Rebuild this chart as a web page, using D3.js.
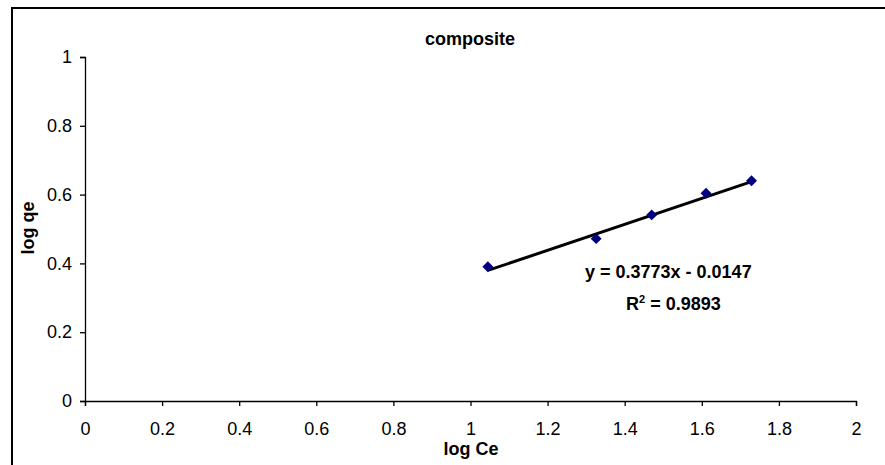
<!DOCTYPE html>
<meta charset="utf-8">
<style>
body { margin: 0; background: #fff; }
svg { display: block; font-family: Arial, "Liberation Sans", sans-serif; }
.axis path, .axis line { stroke: #000; stroke-width: 1.3; }
.axis text { font-size: 18px; fill: #000; }
.lbl { font-weight: bold; font-size: 18px; fill: #000; }
</style>
<svg width="885" height="465"></svg>
<script src="https://d3js.org/d3.v7.min.js"></script>
<script>
// log Ce vs log qe, composite
var logCe = [1.045, 1.326, 1.470, 1.611, 1.729];
var logQe = [0.390, 0.472, 0.541, 0.604, 0.640];
var xTicks = [0, 0.2, 0.4, 0.6, 0.8, 1, 1.2, 1.4, 1.6, 1.8, 2];
var yTicks = [0, 0.2, 0.4, 0.6, 0.8, 1];
var slope = 0.3773, intercept = -0.0147;
var eqText = "y = 0.3773x - 0.0147";
var r2Value = "0.9893";

var svg = d3.select("svg");

// chart border (top and left visible, rest is clipped off)
svg.append("rect")
    .attr("x", 12).attr("y", 8)
    .attr("width", 900).attr("height", 500)
    .attr("fill", "none").attr("stroke", "#000").attr("stroke-width", 2);

var x = d3.scaleLinear().domain([0, 2]).range([85, 856]),
    y = d3.scaleLinear().domain([0, 1]).range([401, 57]);

svg.append("g")
    .attr("class", "axis")
    .attr("transform", "translate(0,401)")
    .call(d3.axisBottom(x).tickValues(xTicks).tickFormat(d3.format("~g")).tickSize(5).tickSizeOuter(5).tickPadding(16));

svg.append("g")
    .attr("class", "axis")
    .attr("transform", "translate(85,0)")
    .call(d3.axisLeft(y).tickValues(yTicks).tickFormat(d3.format("~g")).tickSize(5).tickSizeOuter(5).tickPadding(8));

// trendline over the data range
var x0 = d3.min(logCe), x1 = d3.max(logCe);
svg.append("line")
    .attr("x1", x(x0)).attr("y1", y(slope * x0 + intercept))
    .attr("x2", x(x1)).attr("y2", y(slope * x1 + intercept))
    .attr("stroke", "#000").attr("stroke-width", 3);

svg.selectAll(".pt")
    .data(logCe)
  .enter().append("path")
    .attr("class", "pt")
    .attr("d", d3.symbol(d3.symbolSquare, 60))
    .attr("transform", function(d, i) { return "translate(" + x(d) + "," + y(logQe[i]) + ") rotate(45)"; })
    .attr("fill", "#000080");

svg.append("text").attr("class", "lbl")
    .attr("x", 470).attr("y", 45).attr("text-anchor", "middle")
    .text("composite");

svg.append("text").attr("class", "lbl")
    .attr("x", 471).attr("y", 455).attr("text-anchor", "middle")
    .text("log Ce");

svg.append("text").attr("class", "lbl")
    .attr("transform", "translate(34,228) rotate(-90)")
    .attr("text-anchor", "middle")
    .text("log qe");

svg.append("text").attr("class", "lbl")
    .attr("x", 585).attr("y", 278)
    .text(eqText);

var r2 = svg.append("text").attr("class", "lbl")
    .attr("x", 626).attr("y", 310);
r2.append("tspan").text("R");
r2.append("tspan").attr("font-size", "11px").attr("dy", -7).text("2");
r2.append("tspan").attr("dy", 7).text(" = " + r2Value);
</script>
